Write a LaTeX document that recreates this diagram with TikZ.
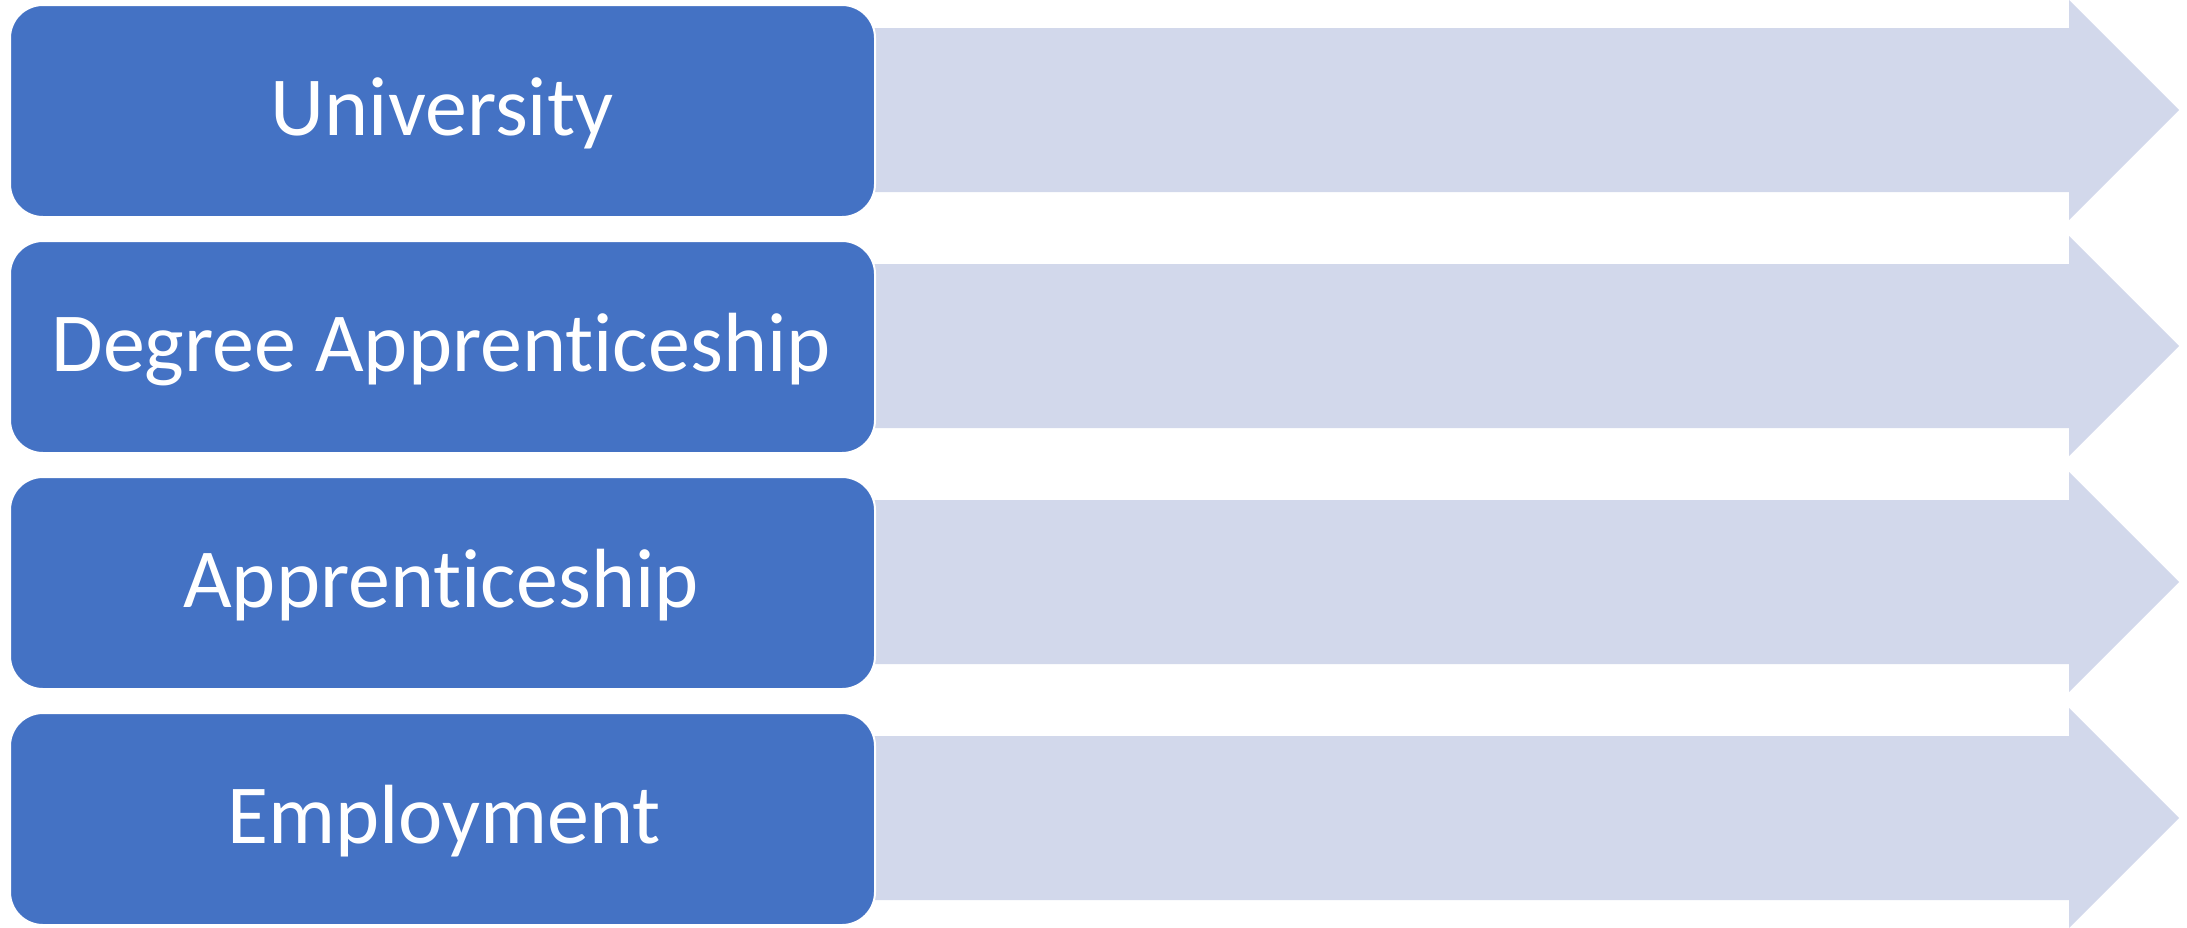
\documentclass[tikz,border=0pt]{standalone}
\usepackage{fontspec}
\setmainfont{Carlito}[RawFeature={-liga}]
\definecolor{boxblue}{HTML}{4472C4}
\definecolor{arrowfill}{HTML}{D2D8EB}
\begin{document}
\begin{tikzpicture}[x=0.5pt,y=-0.5pt,
  box/.style={draw=white, line width=1pt, fill=boxblue, rounded corners=16.5pt,
    minimum width=432.5pt, minimum height=106pt, inner sep=0pt, anchor=north west},
  lbl/.style={text=white, font=\fontsize{42}{50}\selectfont, anchor=base, inner sep=0pt},
  arr/.style={fill=arrowfill, draw=none}]
\useasboundingbox (0,0) rectangle (2187,927);
\foreach \t in {28,264,500,736}{
  \fill[arr] (873,\t) -- (2069,\t) -- (2069,\t-28) -- (2179,\t+82) -- (2069,\t+192) -- (2069,\t+164) -- (873,\t+164) -- cycle;
}
\node[box] (b1) at (9,4) {};
\node[box] (b2) at (9,240) {};
\node[box] (b3) at (9,476) {};
\node[box] (b4) at (9,712) {};
\node[lbl] (t1) at (442,135) {University};
\node[lbl] (t2) at (441,371) {Degree Apprenticeship};
\node[lbl] (t3) at (441,607) {Apprenticeship};
\node[lbl] (t4) at (444,843) {Employment};
\end{tikzpicture}
\end{document}
